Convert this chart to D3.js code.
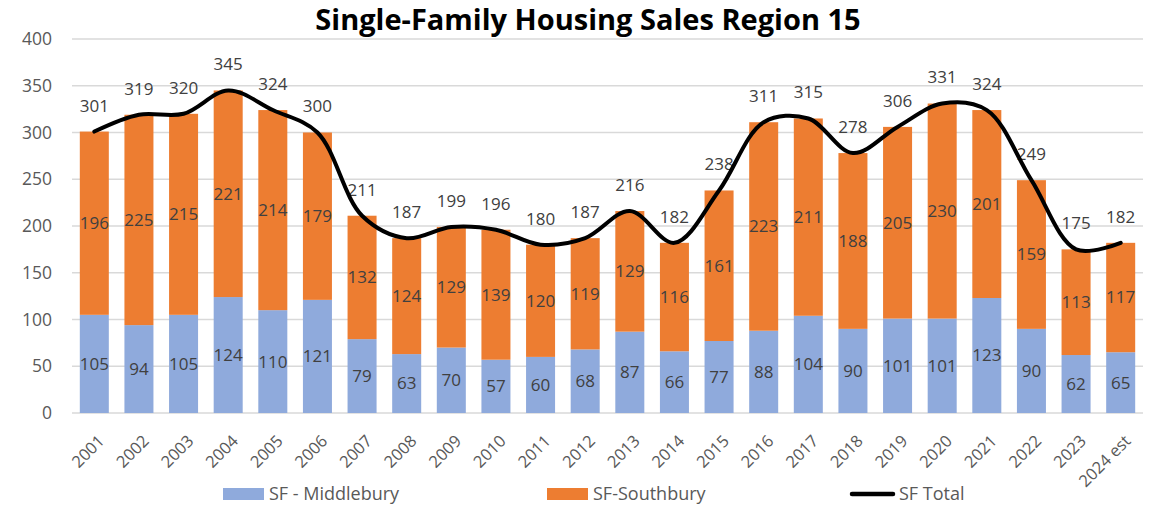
<!DOCTYPE html>
<html>
<head>
<meta charset="utf-8">
<script src="https://cdn.jsdelivr.net/npm/d3@7"></script>
<style>
    body { margin: 0; background: #fff; }
    text { font-family: "Open Sans", "Noto Sans", sans-serif; }
</style>
</head>
<body>
<script>
const years = ["2001", "2002", "2003", "2004", "2005", "2006", "2007", "2008", "2009", "2010",
    "2011", "2012", "2013", "2014", "2015", "2016", "2017", "2018", "2019", "2020",
    "2021", "2022", "2023", "2024 est"]
const middlebury = [105, 94, 105, 124, 110, 121, 79, 63, 70, 57, 60, 68, 87, 66, 77, 88, 104, 90, 101, 101, 123, 90, 62, 65]
const southbury = [196, 225, 215, 221, 214, 179, 132, 124, 129, 139, 120, 119, 129, 116, 161, 223, 211, 188, 205, 230, 201, 159, 113, 117]
const total = [301, 319, 320, 345, 324, 300, 211, 187, 199, 196, 180, 187, 216, 182, 238, 311, 315, 278, 306, 331, 324, 249, 175, 182]
const yTicks = [0, 50, 100, 150, 200, 250, 300, 350, 400]

const WIDTH = 1154
const HEIGHT = 507
const PLOT = { left: 72, right: 1143, top: 39, bottom: 413 }

const BLUE = "#8faadc"
const ORANGE = "#ed7d31"
const LABEL = "#404040"
const AXIS = "#595959"

const svg = d3.select("body")
    .append("svg")
    .attr("width", WIDTH)
    .attr("height", HEIGHT)

const x = d3.scaleBand()
    .domain(years)
    .range([PLOT.left, PLOT.right])
    .paddingInner(0.35)
    .paddingOuter(0.175)

const y = d3.scaleLinear()
    .domain([0, 400])
    .range([PLOT.bottom, PLOT.top])

// grid
svg.append("g")
    .selectAll("line")
    .data(yTicks)
    .enter()
    .append("line")
    .attr("x1", PLOT.left)
    .attr("x2", PLOT.right)
    .attr("y1", d => y(d))
    .attr("y2", d => y(d))
    .attr("stroke", "#d9d9d9")
    .attr("stroke-width", 1.3)

svg.append("g")
    .selectAll("text")
    .data(yTicks)
    .enter()
    .append("text")
    .attr("x", 52)
    .attr("y", d => y(d))
    .attr("dy", "0.35em")
    .attr("text-anchor", "end")
    .attr("fill", AXIS)
    .attr("font-size", "17.5px")
    .text(d => d)

const rows = years.map((yr, i) => ({ year: yr, m: middlebury[i], s: southbury[i], t: total[i] }))

// bars
const bars = svg.append("g")
bars.selectAll(".mid")
    .data(rows)
    .enter()
    .append("rect")
    .attr("x", d => x(d.year))
    .attr("width", x.bandwidth())
    .attr("y", d => y(d.m))
    .attr("height", d => y(0) - y(d.m))
    .attr("fill", BLUE)

bars.selectAll(".south")
    .data(rows)
    .enter()
    .append("rect")
    .attr("x", d => x(d.year))
    .attr("width", x.bandwidth())
    .attr("y", d => y(d.m + d.s))
    .attr("height", d => y(d.m) - y(d.m + d.s))
    .attr("fill", ORANGE)

const cx = d => x(d.year) + x.bandwidth() / 2

// segment labels
const labels = svg.append("g")
    .attr("font-size", "17px")
    .attr("fill", LABEL)
    .attr("text-anchor", "middle")

labels.selectAll(".ml")
    .data(rows)
    .enter()
    .append("text")
    .attr("x", cx)
    .attr("y", d => y(d.m / 2))
    .attr("dy", "0.35em")
    .text(d => d.m)

labels.selectAll(".sl")
    .data(rows)
    .enter()
    .append("text")
    .attr("x", cx)
    .attr("y", d => y(d.m + d.s / 2))
    .attr("dy", "0.35em")
    .text(d => d.s)

// total line
const line = d3.line()
    .x(cx)
    .y(d => y(d.t))
    .curve(d3.curveCatmullRom)

svg.append("path")
    .datum(rows)
    .attr("d", line)
    .attr("fill", "none")
    .attr("stroke", "#000")
    .attr("stroke-width", 4)
    .attr("stroke-linejoin", "round")
    .attr("stroke-linecap", "round")

labels.selectAll(".tl")
    .data(rows)
    .enter()
    .append("text")
    .attr("x", cx)
    .attr("y", d => y(d.t) - 26)
    .attr("dy", "0.35em")
    .text(d => d.t)

// x axis labels
svg.append("g")
    .selectAll("text")
    .data(years)
    .enter()
    .append("text")
    .attr("transform", d => `translate(${x(d) + x.bandwidth() / 2 + 7},${PLOT.bottom + 25}) rotate(-45)`)
    .attr("text-anchor", "end")
    .attr("dy", "0.35em")
    .attr("fill", AXIS)
    .attr("font-size", "16.5px")
    .text(d => d)

// title
svg.append("text")
    .attr("x", 588)
    .attr("y", 30)
    .attr("text-anchor", "middle")
    .attr("font-size", "29px")
    .attr("font-weight", "bold")
    .attr("fill", "#000")
    .text("Single-Family Housing Sales Region 15")

// legend
const legendItems = [
    { name: "SF - Middlebury", color: BLUE, type: "rect", x: 223 },
    { name: "SF-Southbury", color: ORANGE, type: "rect", x: 547 },
    { name: "SF Total", color: "#000", type: "line", x: 850 }
]
const legend = svg.append("g")
legendItems.forEach(item => {
    if (item.type === "rect") {
        legend.append("rect")
            .attr("x", item.x)
            .attr("y", 488)
            .attr("width", 41)
            .attr("height", 12)
            .attr("fill", item.color)
    } else {
        legend.append("line")
            .attr("x1", item.x + 2)
            .attr("x2", item.x + 43)
            .attr("y1", 494)
            .attr("y2", 494)
            .attr("stroke", item.color)
            .attr("stroke-width", 4.5)
            .attr("stroke-linecap", "round")
    }
    legend.append("text")
        .attr("x", item.type === "rect" ? item.x + 46 : item.x + 49)
        .attr("y", 494)
        .attr("dy", "0.35em")
        .attr("fill", AXIS)
        .attr("font-size", "18px")
        .text(item.name)
})
</script>
</body>
</html>
